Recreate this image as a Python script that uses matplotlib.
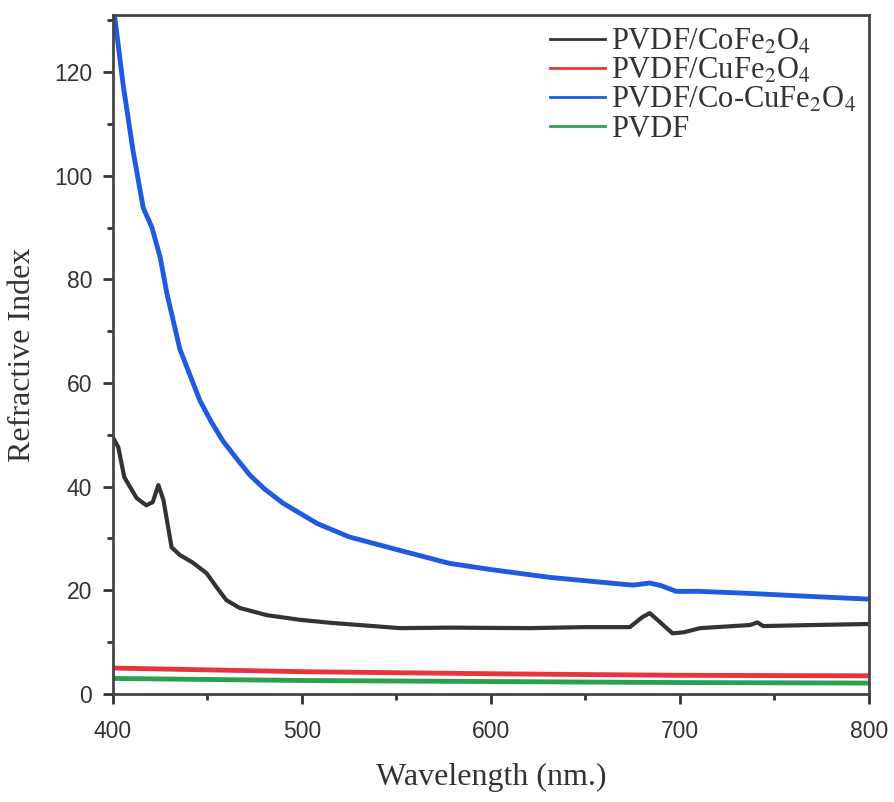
import numpy as np
import matplotlib.pyplot as plt
from matplotlib.ticker import MultipleLocator

# wavelength (nm) / refractive index
wl_co = [400, 402.8, 406, 412.5, 417.6, 421, 424, 426.7, 431, 435.4, 442, 449.5,
         455, 460, 467, 481.5, 499, 516, 552, 578, 620, 650, 673.5, 680, 684, 689, 696,
         702, 710.6, 737, 741, 744, 770, 800]
n_co = [49.5, 47.6, 41.8, 37.8, 36.4, 37, 40.3, 37.4, 28.3, 26.8, 25.4, 23.3,
        20.5, 18.1, 16.6, 15.2, 14.3, 13.7, 12.7, 12.8, 12.7, 12.9, 12.9, 14.8, 15.6, 14,
        11.7, 11.9, 12.7, 13.3, 13.8, 13.1, 13.3, 13.5]

wl_cu = [400, 500, 600, 700, 800]
n_cu = [5.0, 4.3, 3.9, 3.6, 3.5]

wl_cocu = [400, 401, 405.3, 410.6, 416, 420.6, 425, 428.5, 435.4, 446, 452, 458, 465,
           472.5, 480, 490, 508, 525, 551.8, 578, 600, 631, 660, 675, 684, 690, 698,
           710, 737, 770, 800]
n_cocu = [131, 130.4, 117.7, 104.8, 93.8, 90, 84.2, 77.3, 66.5, 56.6, 52.5, 48.9, 45.6,
          42.2, 39.6, 36.8, 32.9, 30.3, 27.7, 25.2, 24, 22.5, 21.5, 21, 21.4, 20.9,
          19.8, 19.8, 19.4, 18.8, 18.3]

wl_pvdf = [400, 500, 600, 700, 800]
n_pvdf = [3.0, 2.6, 2.4, 2.2, 2.1]

plt.rcParams['mathtext.fontset'] = 'stix'

fig = plt.figure(figsize=(8.94, 8.02), dpi=100)
ax = fig.add_axes([0.1264, 0.1347, 0.8456, 0.8466])

ax.plot(wl_co, n_co, color='#333333', lw=3, label=r'PVDF/CoFe$_2$O$_4$')
ax.plot(wl_cu, n_cu, color='#e8343c', lw=3.5, label=r'PVDF/CuFe$_2$O$_4$')
ax.plot(wl_cocu, n_cocu, color='#1f5ae0', lw=3.5, label=r'PVDF/Co-CuFe$_2$O$_4$')
ax.plot(wl_pvdf, n_pvdf, color='#2ca050', lw=3.5, label='PVDF')

ax.set_xlim(400, 800)
ax.set_ylim(0, 131)
ax.xaxis.set_major_locator(MultipleLocator(100))
ax.xaxis.set_minor_locator(MultipleLocator(50))
ax.yaxis.set_major_locator(MultipleLocator(20))
ax.yaxis.set_minor_locator(MultipleLocator(10))
ax.tick_params(which='major', direction='out', length=7, width=2, labelsize=16.5,
               colors='#333333', labelcolor='#333333')
ax.tick_params(which='minor', direction='out', length=4, width=2, colors='#333333')
ax.tick_params(axis='x', which='major', pad=12)
ax.tick_params(axis='y', which='major', pad=8)
for lbl in ax.get_xticklabels() + ax.get_yticklabels():
    lbl.set_family('Liberation Sans')
for s in ax.spines.values():
    s.set_linewidth(2)
    s.set_color('#444444')

ax.set_xlabel('Wavelength (nm.)', family='Liberation Serif', fontsize=23,
              color='#333333', labelpad=14)
ax.set_ylabel('Refractive Index', family='Liberation Serif', fontsize=23,
              color='#333333', labelpad=12)

leg = ax.legend(loc='upper right', frameon=False, handlelength=1.8, handletextpad=0.2,
                labelspacing=0.0, borderaxespad=0.1, borderpad=0.3,
                prop={'family': 'Liberation Serif', 'size': 22})
for t in leg.get_texts():
    t.set_color('#333333')
for h in leg.get_lines():
    h.set_linewidth(2)

fig.savefig('out.png', dpi=100)
